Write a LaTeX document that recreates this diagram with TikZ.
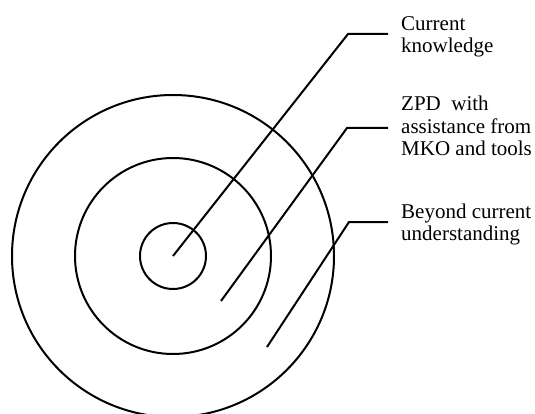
\documentclass[tikz,border=0pt]{standalone}
\usepackage{fontspec}
\setmainfont{Liberation Serif}
\begin{document}
\begin{tikzpicture}[x=1pt,y=1pt,
  ring/.style={circle,draw,line width=2pt,inner sep=0pt,minimum size=#1},
  leader/.style={line width=2pt,line join=miter},
  lbl/.style={inner sep=0pt,anchor=base west,align=left,font=\fontsize{21}{22}\selectfont}]
\useasboundingbox (0,0) rectangle (535,413);
\clip (0,0) rectangle (535,413);
\coordinate (c) at (173,157);
\node[ring=66pt]  (inner)  at (c) {};
\node[ring=196pt] (middle) at (c) {};
\node[ring=322pt] (outer)  at (c) {};
% labels (base anchor = last line's baseline)
\node[lbl] (l1) at (401,360) {Current\\knowledge};
\node[lbl] (l2) at (401,258) {ZPD\ \ with\\assistance from\\MKO and tools};
\node[lbl] (l3) at (401,173) {Beyond current\\understanding};
% leader points
\coordinate (s1) at (173,157);
\coordinate (e1) at (348,379);
\coordinate (h1) at (388,379);
\coordinate (s2) at (221,112);
\coordinate (e2) at (347,285);
\coordinate (h2) at (388,285);
\coordinate (s3) at (267,66);
\coordinate (e3) at (349,191);
\coordinate (h3) at (388,191);
\draw[leader] (s1) -- (e1) -- (h1);
\draw[leader] (s2) -- (e2) -- (h2);
\draw[leader] (s3) -- (e3) -- (h3);
\end{tikzpicture}
\end{document}
